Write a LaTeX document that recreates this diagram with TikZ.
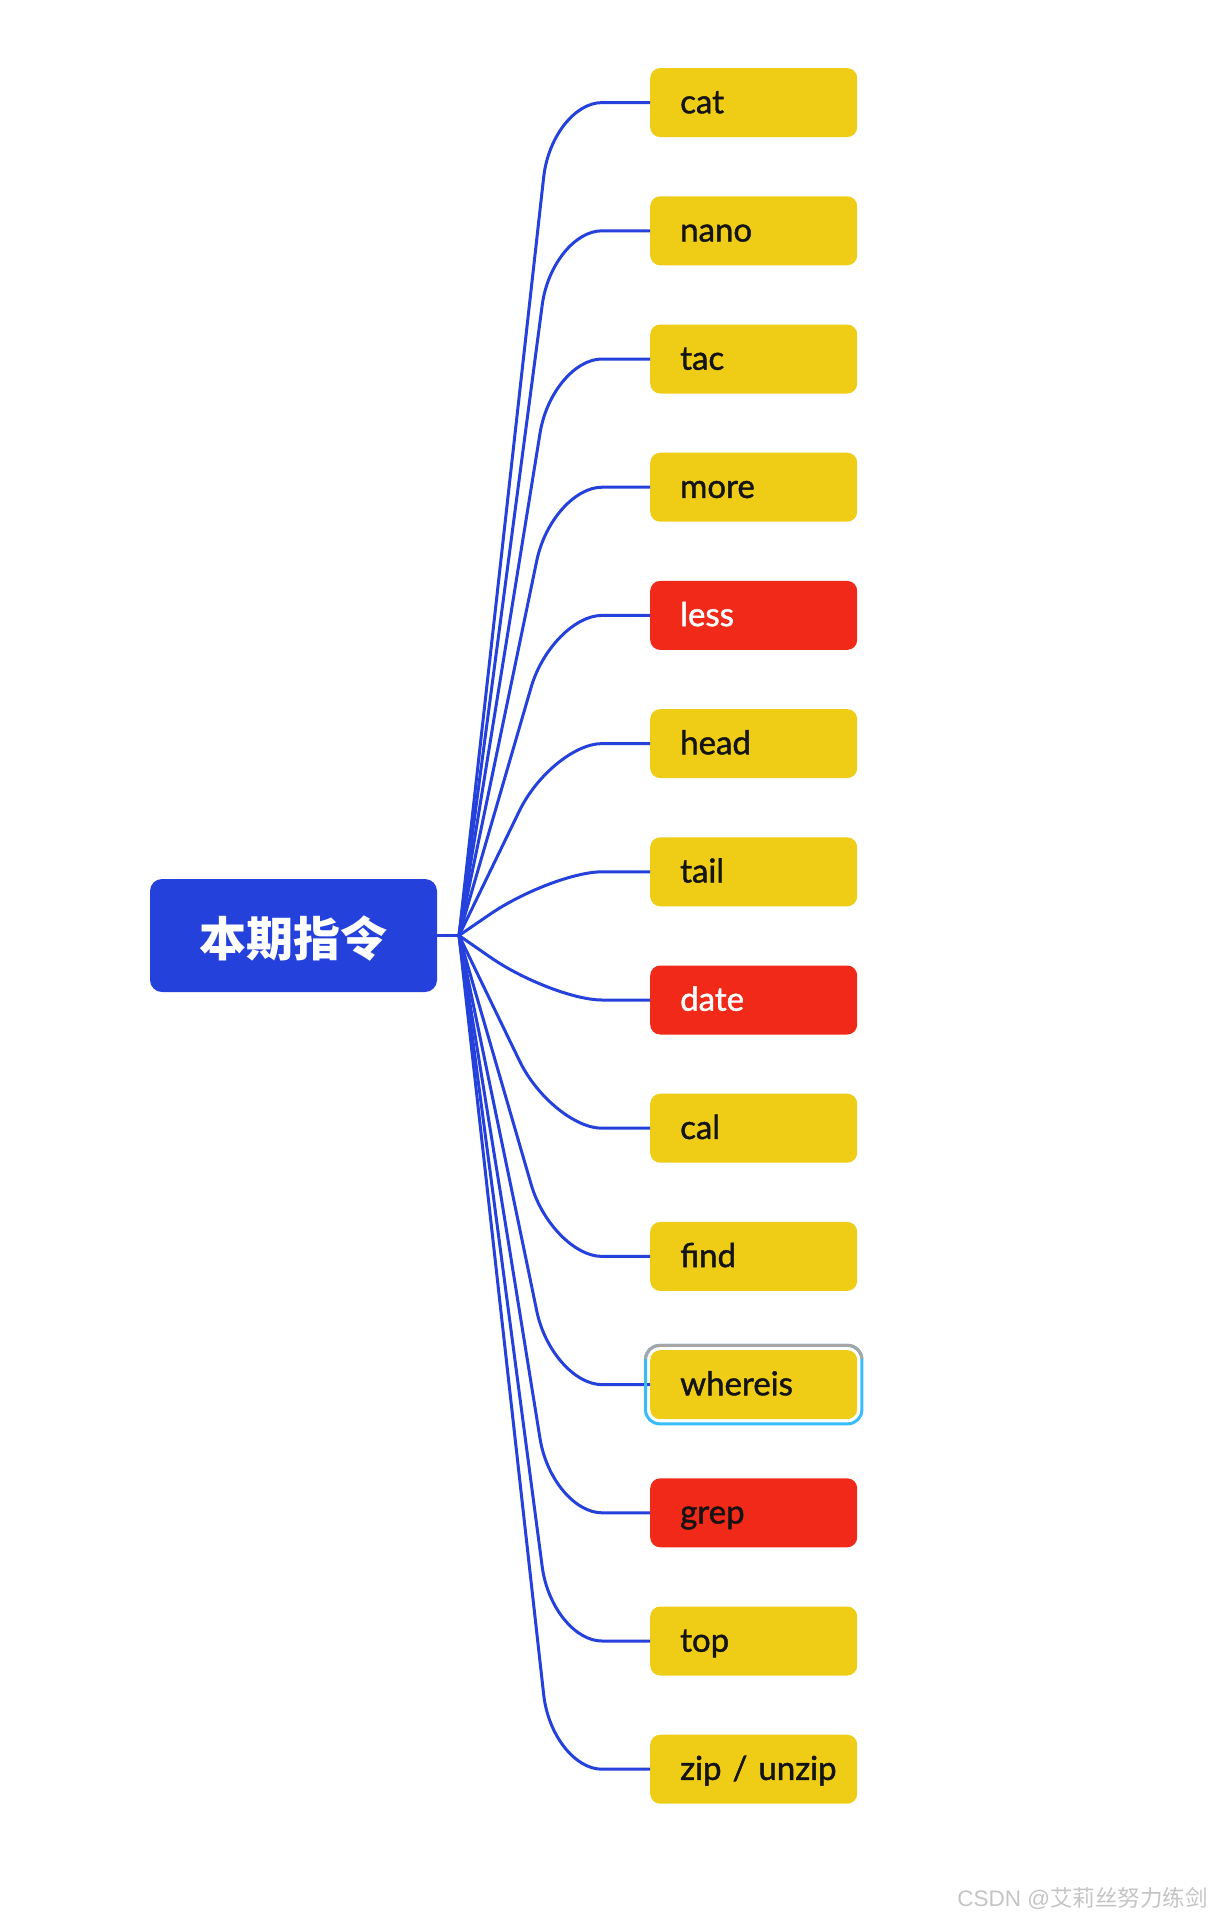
\documentclass[tikz,border=0pt]{standalone}
\usepackage{fontspec}
\usetikzlibrary{calc}
\setmainfont{Lato}
\newfontfamily\leaffont{Lato}[FakeBold=1.3]
\newfontfamily\cjk{Noto Sans CJK SC}
\newfontfamily\wmlatin{Liberation Sans}
\definecolor{blueM}{HTML}{2541DB}
\definecolor{yellowM}{HTML}{EFCD17}
\definecolor{redM}{HTML}{F12918}
\definecolor{selBlue}{HTML}{38BDF8}
\definecolor{selGray}{HTML}{A6A6A6}
\definecolor{wmGray}{HTML}{C4C4C4}
\begin{document}
\begin{tikzpicture}[x=1pt,y=-1pt,
  leaf/.style={fill=yellowM, rounded corners=10pt, minimum height=69pt,
    text width=147pt, inner xsep=30pt, inner ysep=0pt, align=left, anchor=west,
    font=\leaffont\fontsize{33}{40}\selectfont, text height=30pt, text depth=8.6pt, text=black!92},
  hot/.style={leaf, fill=redM},
  hotw/.style={hot, text=white},
  rootbox/.style={fill=blueM, rounded corners=12pt, minimum width=287pt, minimum height=113pt,
    inner sep=0pt, text=white, font=\cjk\bfseries\fontsize{47}{50}\selectfont,
    text height=47pt, text depth=6pt},
  conn/.style={draw=blueM, line width=3pt},
  sel/.style={line width=3pt, rounded corners=14pt}
]
\useasboundingbox (0,0) rectangle (1215,1917);

\node[rootbox] (root) at (293.5,935.5) {本期指令};
\coordinate (J) at (459,935.5);
\coordinate (cx) at (552,0);

\node[leaf] (l0) at (650,102.6) {cat};
\node[leaf] (l1) at (650,230.8) {nano};
\node[leaf] (l2) at (650,359.0) {tac};
\node[leaf] (l3) at (650,487.2) {more};
\node[hotw] (l4) at (650,615.4) {less};
\node[leaf] (l5) at (650,743.6) {head};
\node[leaf] (l6) at (650,871.8) {tail};
\node[hotw] (l7) at (650,1000.0) {date};
\node[leaf] (l8) at (650,1128.2) {cal};
\node[leaf] (l9) at (650,1256.4) {find};
\node[leaf] (l10) at (650,1384.6) {whereis};
\node[hot] (l11) at (650,1512.8) {grep};
\node[leaf] (l12) at (650,1641.0) {top};
\node[leaf] (l13) at (650,1769.2) {\mbox{zip / unzip}};

\draw[conn] (root.east) -- (J);
\foreach \i in {0,...,13}{
  \coordinate (c\i) at (cx |- l\i.west);
  \draw[conn] (J) -- ($(c\i)!75pt!(J)$)
    .. controls ($(c\i)!34pt!(J)$) and ($(c\i)!23pt!(l\i.west)$) .. ($(c\i)!50pt!(l\i.west)$)
    -- (l\i.west);
}

\draw[sel, draw=selBlue] ([shift={(-4.5,-4.5)}]l10.north west) rectangle ([shift={(4.5,4.5)}]l10.south east);
\begin{scope}
  \clip (600,1330) rectangle (900,1358);
  \draw[sel, draw=selGray] ([shift={(-4.5,-4.5)}]l10.north west) rectangle ([shift={(4.5,4.5)}]l10.south east);
\end{scope}

\node[anchor=east, text=wmGray, inner sep=0pt, font=\fontsize{22.5}{26}\selectfont] (wm) at (1208,1898) {\wmlatin CSDN @\cjk 艾莉丝努力练剑};
\end{tikzpicture}
\end{document}
